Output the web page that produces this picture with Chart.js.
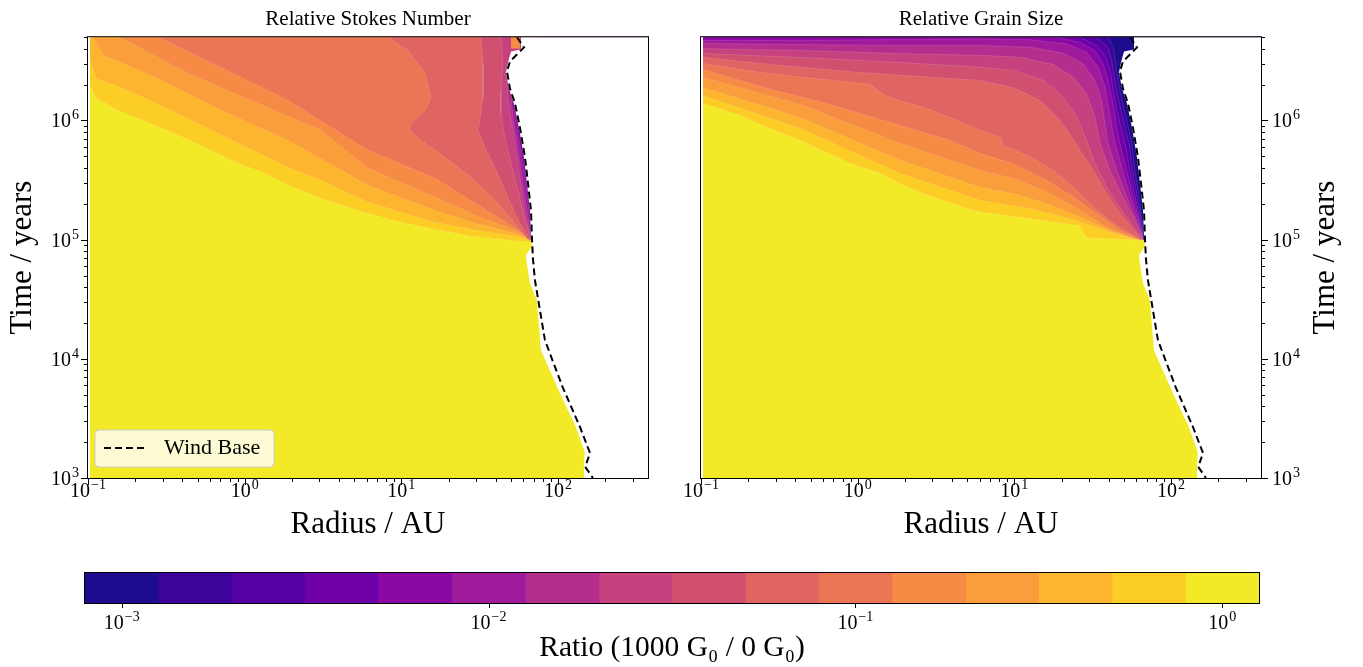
<!DOCTYPE html>
<html>
<head>
<meta charset="utf-8">
<script src="https://cdn.jsdelivr.net/npm/chart.js@4.4.1/dist/chart.umd.min.js"></script>
<style>
  html, body { margin: 0; padding: 0; background: #fff; }
  #wrap { position: relative; width: 1363px; height: 667px; overflow: hidden; }
  canvas { position: absolute; }
</style>
</head>
<body>
<div id="wrap">
  <canvas id="stokes" width="680" height="550" style="left:0px;top:0px"></canvas>
  <canvas id="grain" width="682" height="550" style="left:681px;top:0px"></canvas>
  <canvas id="cbar" width="1363" height="107" style="left:0px;top:560px"></canvas>
</div>
<script>
// contour levels of the ratio (0.2 dex apart) and their colours
var levels = [7.94e-4, 1.26e-3, 2.00e-3, 3.16e-3, 5.01e-3, 7.94e-3, 1.26e-2, 2.00e-2, 3.16e-2,
              5.01e-2, 7.94e-2, 0.126, 0.200, 0.316, 0.501, 0.794, 1.26];
var bandColors = ['#1e0c8e', '#3c049b', '#5601a4', '#6f00a8', '#8a09a5', '#a01a9c', '#b42e8d', '#c6427e',
                  '#d2506f', '#e06462', '#eb7655', '#f58b45', '#f99e3a', '#fdb42f', '#fcce25', '#f3ea27'];

var radiusTicks = [0.1, 1, 10, 100];
var timeTicks = [1e3, 1e4, 1e5, 1e6];
var ratioTicks = [1e-3, 1e-2, 1e-1, 1];

// wind base (radius AU, time yr)
var windR = [54.7, 60.6, 49.3, 47.2, 49.3, 53.1, 57.1, 61.5, 64.3, 67.2, 68.1, 69.1, 71.2, 82.5, 107, 138, 160, 149, 167];
var windT = [5.0e6, 4.1e6, 3.13e6, 2.58e6, 1.86e6, 1.39e6, 8.75e5, 4.91e5, 2.97e5, 1.76e5, 1.05e5, 6.98e4, 4.57e4,
             1.43e4, 5.79e3, 2.68e3, 1.62e3, 1.24e3, 1.0e3];

// outer edge of the simulated grid
var edgeR = [58.0, 58.0, 50.1, 47.9, 46.5, 48.6, 52.3, 56.3, 60.6, 63.3, 66.2, 67.2, 68.1, 62.4, 63.3, 66.2,
             73.3, 77.8, 104, 130, 148, 146, 148];
var edgeT = [6e6, 3.94e6, 3.80e6, 3.07e6, 2.53e6, 1.86e6, 1.39e6, 8.75e5, 4.91e5, 2.97e5, 1.76e5, 1.05e5, 8.8e4,
             7.4e4, 6.22e4, 4.31e4, 3.10e4, 1.18e4, 4.96e3, 2.68e3, 1.65e3, 1.17e3, 870];
var innerR = 0.103;

// Relative Stokes Number: contour lines [radius, time], band number = colour above the line
var stokes15 = [[0.103, 1.97e6], [0.113, 1.53e6], [0.155, 1.22e6], [0.268, 9.1e5], [0.416, 7.1e5], [0.906, 4.37e5],
                [1.35, 3.6e5], [1.89, 2.86e5], [3.07, 2.22e5], [5.28, 1.76e5], [9.8, 1.4e5], [17.6, 1.2e5],
                [27.8, 1.07e5], [42.6, 1.01e5], [67.2, 9.5e4]];
var stokes14 = [[0.103, 3.19e6], [0.113, 2.25e6], [0.18, 1.79e6], [0.435, 1.04e6], [0.906, 6.43e5], [1.89, 4.05e5],
                [3.07, 3.15e5], [6.12, 2.06e5], [16.4, 1.4e5], [29.5, 1.2e5], [53.1, 1.07e5], [67.2, 9.9e4]];
var stokes13 = [[0.108, 5e6], [0.125, 3.52e6], [0.268, 2.3e6], [0.706, 1.22e6], [1.89, 6.82e5], [6.12, 2.86e5],
                [16.4, 1.76e5], [29.5, 1.37e5], [53.1, 1.13e5], [67.2, 1.0e5]];
var stokes12 = [[0.159, 5e6], [0.435, 2.48e6], [1.16, 1.42e6], [3.07, 8.26e5], [6.12, 3.97e5], [16.4, 2.27e5],
                [29.5, 1.6e5], [53.1, 1.2e5], [67.2, 1.0e5]];
var stokes11 = [[0.28, 5e6], [0.706, 2.79e6], [1.89, 1.47e6], [6.12, 5.62e5], [16.4, 3.27e5], [29.5, 2.02e5],
                [39.6, 1.6e5], [53.1, 1.25e5], [67.2, 1.0e5]];
var stokes10 = [[8.21, 5e6], [11.0, 3.87e6], [14.2, 2.48e6], [15.5, 1.56e6], [14.2, 1.22e6], [11.5, 9.46e5],
                [11.35, 8.26e5], [13.3, 6.82e5], [19.0, 4.91e5], [27.8, 3.33e5], [39.6, 2.14e5], [53.1, 1.37e5],
                [64.3, 1.0e5]];
var stokes9 = [[32.2, 5e6], [33.2, 3.01e6], [33.2, 1.56e6], [31.8, 1.06e6], [30.8, 8.26e5], [34.2, 5.95e5],
               [40.2, 3.82e5], [47.9, 2.27e5], [57.1, 1.37e5], [66.2, 1.0e5]];
var stokes8 = [[43.2, 5e6], [44.5, 3.01e6], [43.2, 1.79e6], [43.2, 1.15e6], [45.8, 7.22e5], [50.1, 4.37e5],
               [55.5, 2.6e5], [60.6, 1.54e5], [67.2, 1.0e5]];
var stokes7 = [[75, 2.53e6], [46.5, 2.53e6], [47.9, 1.56e6], [50.8, 9.46e5], [53.9, 5.62e5], [57.5, 3.15e5],
               [61.0, 1.76e5], [67.2, 1.0e5]];
var stokes6 = [[75, 1.47e6], [50.1, 1.47e6], [52.3, 9.46e5], [55.9, 5.62e5], [59.2, 3.15e5], [63.3, 1.76e5],
               [67.2, 1.03e5]];
var stokes5 = [[75, 8.75e5], [54.7, 8.75e5], [58.8, 4.91e5], [62.0, 2.97e5], [65.2, 1.76e5], [67.2, 1.05e5]];
var stokesSpot = [[57.1, 5e6], [50.1, 5e6], [50.1, 4.02e6], [57.1, 4.02e6]];

// Relative Grain Size
var grain15 = [[0.103, 1.39e6], [0.119, 1.31e6], [0.185, 1.08e6], [0.264, 8.75e5], [0.428, 6.82e5], [0.637, 5.4e5],
               [0.893, 4.37e5], [1.39, 3.6e5], [1.95, 2.86e5], [3.02, 2.27e5], [4.98, 1.83e5], [6.03, 1.71e5],
               [12.6, 1.5e5], [26.2, 1.3e5], [28.9, 1.04e5], [54.7, 1.0e5], [65.9, 9.8e4]];
var grain14 = [[0.103, 1.62e6], [0.428, 8.59e5], [1.86, 3.6e5], [6.03, 2.14e5], [12.6, 1.82e5], [20.5, 1.55e5],
               [26.2, 1.41e5], [42.8, 1.13e5], [64.9, 9.9e4]];
var grain13 = [[0.103, 1.89e6], [0.428, 1.06e6], [1.86, 4.63e5], [6.03, 2.75e5], [9.87, 2.43e5], [16.1, 2.01e5],
               [26.2, 1.55e5], [42.8, 1.16e5], [64.9, 9.9e4]];
var grain12 = [[0.103, 2.3e6], [0.428, 1.36e6], [1.86, 6.43e5], [6.03, 3.82e5], [9.87, 3.25e5], [16.1, 2.51e5],
               [26.2, 1.76e5], [38.8, 1.28e5], [54.7, 1.05e5], [64.9, 1.0e5]];
var grain11 = [[0.103, 2.68e6], [0.264, 1.86e6], [0.696, 1.34e6], [1.86, 9.1e5], [3.88, 6.82e5], [6.03, 5.3e5],
               [9.87, 4.34e5], [16.1, 3.15e5], [23.8, 2.28e5], [33.5, 1.66e5], [47.2, 1.2e5], [64.9, 1.0e5]];
var grain10 = [[0.103, 3.01e6], [0.264, 2.48e6], [0.696, 2.17e6], [1.2, 2.01e6], [1.49, 1.62e6], [1.86, 1.47e6],
               [2.77, 1.26e6], [4.3, 1.0e6], [6.03, 8.26e5], [8.09, 7.26e5], [8.5, 6.18e5], [12.6, 4.93e5],
               [17.7, 3.82e5], [23.8, 2.76e5], [31.9, 1.88e5], [42.8, 1.38e5], [63.3, 1.0e5]];
var grain9 = [[0.103, 3.38e6], [0.319, 2.9e6], [1.03, 2.53e6], [2.5, 2.34e6], [6.03, 2.17e6], [9.87, 1.88e6],
              [14.6, 1.47e6], [19.1, 1.04e6], [23.2, 7.26e5], [26.2, 5.62e5], [31.9, 3.82e5], [38.8, 2.43e5],
              [49.5, 1.55e5], [64.9, 1.0e5]];
var grain8 = [[0.103, 3.65e6], [0.428, 3.38e6], [1.86, 3.07e6], [6.03, 2.8e6], [9.87, 2.63e6], [15.3, 2.17e6],
              [20.5, 1.57e6], [25.0, 1.07e6], [28.9, 6.82e5], [32.7, 4.34e5], [38.8, 2.76e5], [45.4, 2.01e5],
              [54.7, 1.41e5], [65.9, 1.0e5]];
var grain7 = [[0.103, 4.02e6], [0.428, 3.87e6], [1.86, 3.65e6], [6.03, 3.52e6], [10.9, 3.4e6], [17.7, 2.95e6],
              [23.8, 2.31e6], [28.9, 1.68e6], [32.7, 1.07e6], [35.2, 6.4e5], [40.7, 3.82e5], [49.1, 2.28e5],
              [57.4, 1.55e5], [66.5, 1.0e5]];
var grain6 = [[0.103, 4.43e6], [0.428, 4.34e6], [1.86, 4.26e6], [6.03, 4.26e6], [12.6, 4.12e6], [20.5, 3.67e6],
              [27.5, 2.99e6], [32.7, 2.17e6], [36.1, 1.47e6], [37.9, 9.4e5], [39.7, 6.4e5], [45.0, 3.82e5],
              [52.1, 2.28e5], [59.1, 1.55e5], [66.5, 1.0e5]];
var grain5 = [[0.103, 4.69e6], [0.428, 4.69e6], [1.86, 4.78e6], [6.03, 4.84e6], [12.6, 4.76e6], [21.6, 4.4e6],
              [28.9, 3.74e6], [34.3, 2.8e6], [37.9, 1.91e6], [40.3, 1.22e6], [42.4, 8.26e5], [43.9, 6.4e5],
              [49.1, 3.82e5], [55.2, 2.28e5], [60.9, 1.55e5], [66.5, 1.0e5]];
var grain4 = [[18.6, 5e6], [26.2, 4.54e6], [32.7, 3.87e6], [36.9, 2.99e6], [39.7, 2.17e6], [41.8, 1.57e6],
              [43.2, 1.22e6], [45.4, 8.26e5], [47.2, 6.4e5], [52.1, 3.82e5], [57.4, 2.28e5], [62.1, 1.55e5],
              [66.5, 1.0e5]];
var grain3 = [[26.2, 5e6], [33.5, 4.26e6], [38.4, 3.4e6], [41.2, 2.47e6], [42.8, 1.79e6], [45.0, 1.22e6],
              [48.4, 8.26e5], [50.8, 6.43e5], [54.7, 3.82e5], [59.1, 2.27e5], [63.0, 1.54e5], [66.5, 1.03e5]];
var grain2 = [[33.5, 5e6], [39.7, 4.1e6], [41.8, 3.19e6], [42.8, 2.63e6], [45.0, 1.79e6], [47.9, 1.22e6],
              [51.5, 8.26e5], [53.9, 6.43e5], [56.9, 3.82e5], [60.9, 2.27e5], [64.0, 1.54e5], [66.5, 1.03e5]];
var grain1 = [[39.7, 5e6], [42.8, 4.1e6], [43.9, 3.19e6], [45.0, 2.63e6], [47.2, 1.79e6], [50.3, 1.22e6],
              [53.9, 8.26e5], [56.0, 6.43e5], [58.8, 3.82e5], [62.4, 2.27e5], [64.9, 1.54e5], [66.5, 1.05e5]];

var stokesBands = [[15, stokes15], [14, stokes14], [13, stokes13], [12, stokes12], [11, stokes11], [10, stokes10],
                   [9, stokes9], [8, stokes8], [7, stokes7], [6, stokes6], [5, stokes5]];
var grainBands = [[15, grain15], [14, grain14], [13, grain13], [12, grain12], [11, grain11], [10, grain10],
                  [9, grain9], [8, grain8], [7, grain7], [6, grain6], [5, grain5], [4, grain4], [3, grain3],
                  [2, grain2], [1, grain1]];

var SERIF = "'Liberation Serif', 'DejaVu Serif', serif";
Chart.defaults.font.family = SERIF;
Chart.defaults.color = '#000';

var FAR_R = 1e4, FAR_T = 1e8, LOW_T = 500;

function toPts(arr) {
  return arr.map(function (p) { return {x: p[0], y: p[1]}; });
}
function area(pts, color, seam) {
  return {data: pts, fill: 'shape', backgroundColor: color, pointRadius: 0, tension: 0,
          borderColor: 'rgba(255,255,255,0.22)', borderWidth: seam ? 0.6 : 0};
}
// region above a contour line, closed round the top right, outside the grid
function band(idx, curve) {
  var d = toPts(curve);
  var first = d[0], last = d[d.length - 1];
  d.push({x: FAR_R, y: last.y}, {x: FAR_R, y: FAR_T}, {x: first.x, y: FAR_T});
  return area(d, bandColors[idx - 1], true);
}

function panelSets(bands, spot) {
  var sets = [area(toPts([[FAR_R, LOW_T], [innerR, LOW_T], [innerR, FAR_T], [FAR_R, FAR_T]]), bandColors[15], false)];
  bands.forEach(function (b) { sets.push(band(b[0], b[1])); });
  if (spot) sets.push(area(toPts(spot), bandColors[11], false));
  var mask = edgeR.map(function (r, i) { return {x: r, y: edgeT[i]}; });
  mask.push({x: FAR_R, y: LOW_T}, {x: FAR_R, y: FAR_T});
  sets.push(area(mask, '#ffffff', false));
  sets.push({
    label: 'Wind Base',
    data: windR.map(function (r, i) { return {x: r, y: windT[i]}; }),
    borderColor: '#000', borderWidth: 2, borderDash: [7, 4], pointRadius: 0, fill: false, tension: 0
  });
  sets.forEach(function (s, i) { s.order = sets.length - i; });
  return sets;
}

// "10" with a raised exponent
function drawPower(ctx, v, x, y, align) {
  var e = Math.round(Math.log10(v));
  var exp = e < 0 ? '\u2212' + (-e) : String(e);
  var base = '20px ' + SERIF, small = '14px ' + SERIF;
  ctx.font = base;
  var wb = ctx.measureText('10').width;
  ctx.font = small;
  var we = ctx.measureText(exp).width;
  var total = wb + 1 + we;
  var x0 = align === 'center' ? x - total / 2 : (align === 'right' ? x - total : x);
  ctx.textAlign = 'left';
  ctx.textBaseline = 'alphabetic';
  ctx.font = base;
  ctx.fillText('10', x0, y);
  ctx.font = small;
  ctx.fillText(exp, x0 + wb + 1, y - 8);
}

// tick marks, tick labels and the frame round the plot
var axisDecor = {
  id: 'axisDecor',
  afterDatasetsDraw: function (chart, args, opts) {
    var ctx = chart.ctx, a = chart.chartArea;
    ctx.save();
    ctx.strokeStyle = '#000';
    ctx.fillStyle = '#000';
    ctx.lineWidth = 1;
    (opts.axes || []).forEach(function (ax) {
      var scale = chart.scales[ax.id];
      var e0 = Math.floor(Math.log10(scale.min)), e1 = Math.ceil(Math.log10(scale.max));
      for (var e = e0; e <= e1; e++) {
        for (var m = 1; m < 10; m++) {
          if (m > 1 && !ax.minor) continue;
          var v = m * Math.pow(10, e);
          if (v < scale.min * 0.999 || v > scale.max * 1.001) continue;
          var len = m === 1 ? (ax.len || 7) : 4;
          var p = Math.round(scale.getPixelForValue(v)) + 0.5;
          ctx.beginPath();
          if (ax.side === 'bottom') { ctx.moveTo(p, a.bottom); ctx.lineTo(p, a.bottom + len); }
          else if (ax.side === 'left') { ctx.moveTo(a.left, p); ctx.lineTo(a.left - len, p); }
          else { ctx.moveTo(a.right, p); ctx.lineTo(a.right + len, p); }
          ctx.stroke();
        }
      }
      ax.labels.forEach(function (v) {
        var p = scale.getPixelForValue(v);
        if (ax.side === 'bottom') drawPower(ctx, v, p, a.bottom + ax.base, 'center');
        else if (ax.side === 'left') drawPower(ctx, v, a.left - 9, p + 7, 'right');
        else drawPower(ctx, v, a.right + 11, p + 7, 'left');
      });
    });
    ctx.strokeRect(a.left - 0.5, a.top - 0.5, a.right - a.left + 1, a.bottom - a.top + 1);
    ctx.restore();
  }
};

var windLegend = {
  id: 'windLegend',
  afterDraw: function (chart, args, opts) {
    if (!opts.show) return;
    var ds = chart.data.datasets.filter(function (d) { return d.label; })[0];
    var ctx = chart.ctx, a = chart.chartArea;
    var x = a.left + 7, y = a.bottom - 48, w = 179, h = 37, r = 4;
    ctx.save();
    ctx.beginPath();
    ctx.moveTo(x + r, y);
    ctx.arcTo(x + w, y, x + w, y + h, r);
    ctx.arcTo(x + w, y + h, x, y + h, r);
    ctx.arcTo(x, y + h, x, y, r);
    ctx.arcTo(x, y, x + w, y, r);
    ctx.closePath();
    ctx.fillStyle = 'rgba(255,255,255,0.8)';
    ctx.fill();
    ctx.strokeStyle = '#cccccc';
    ctx.lineWidth = 1;
    ctx.stroke();
    ctx.beginPath();
    ctx.setLineDash(ds.borderDash);
    ctx.strokeStyle = ds.borderColor;
    ctx.lineWidth = ds.borderWidth;
    ctx.moveTo(x + 9, y + 18);
    ctx.lineTo(x + 52, y + 18);
    ctx.stroke();
    ctx.setLineDash([]);
    ctx.fillStyle = '#000';
    ctx.font = '22px ' + SERIF;
    ctx.textBaseline = 'middle';
    ctx.fillText(ds.label, x + 69, y + 18.5);
    ctx.restore();
  }
};

// y title on the right axis, reading upwards like the left one
var sideTitle = {
  id: 'sideTitle',
  afterDraw: function (chart, args, opts) {
    if (!opts.text) return;
    var ctx = chart.ctx, a = chart.chartArea;
    ctx.save();
    ctx.translate(opts.x, (a.top + a.bottom) / 2);
    ctx.rotate(-Math.PI / 2);
    ctx.font = opts.font;
    ctx.fillStyle = '#000';
    ctx.textAlign = 'center';
    ctx.textBaseline = 'middle';
    ctx.fillText(opts.text, 0, 0);
    ctx.restore();
  }
};

function panelOptions(title, side) {
  var left = side === 'left';
  return {
    responsive: false, animation: false, devicePixelRatio: 1, events: [],
    layout: {padding: left ? {left: 0, right: 32, top: 0, bottom: 0} : {left: 20, right: 0, top: 0, bottom: 0}},
    scales: {
      x: {
        type: 'logarithmic', min: 0.1, max: 375,
        afterFit: function (s) { s.height = 72; },
        grid: {display: false, drawTicks: false, tickLength: 0},
        border: {display: false},
        ticks: {display: false},
        title: {display: true, text: 'Radius / AU', font: {size: 31}, padding: {top: 0, bottom: 7}}
      },
      y: {
        type: 'logarithmic', position: side, min: 1e3, max: 5e6,
        afterFit: function (s) { s.width = left ? 88 : 102; },
        grid: {display: false, drawTicks: false, tickLength: 0},
        border: {display: false},
        ticks: {display: false},
        title: {display: left, text: 'Time / years', font: {size: 31}, padding: {top: 4, bottom: 0}}
      }
    },
    plugins: {
      legend: {display: false},
      tooltip: {enabled: false},
      title: {display: true, text: title, color: '#000', fullSize: false,
              font: {size: 21, weight: 'normal'}, padding: {top: 7, bottom: 5}},
      axisDecor: {axes: [{id: 'x', side: 'bottom', minor: true, labels: radiusTicks, base: 19},
                         {id: 'y', side: side, minor: true, labels: timeTicks}]},
      windLegend: {show: left},
      sideTitle: left ? {} : {text: 'Time / years', x: 645, font: '31px ' + SERIF}
    }
  };
}

new Chart('stokes', {
  type: 'line',
  data: {datasets: panelSets(stokesBands, stokesSpot)},
  options: panelOptions('Relative Stokes Number', 'left'),
  plugins: [axisDecor, windLegend, sideTitle]
});

new Chart('grain', {
  type: 'line',
  data: {datasets: panelSets(grainBands, null)},
  options: panelOptions('Relative Grain Size', 'right'),
  plugins: [axisDecor, windLegend, sideTitle]
});

// colour bar: one floating bar per level band
new Chart('cbar', {
  type: 'bar',
  data: {
    labels: [''],
    datasets: bandColors.map(function (c, i) {
      return {data: [[levels[i], levels[i + 1]]], backgroundColor: c, borderWidth: 0,
              grouped: false, barPercentage: 1, categoryPercentage: 1};
    })
  },
  options: {
    indexAxis: 'y', responsive: false, animation: false, devicePixelRatio: 1, events: [],
    layout: {padding: {left: 85, right: 104, top: 13, bottom: 0}},
    scales: {
      x: {
        type: 'logarithmic', min: levels[0], max: levels[levels.length - 1],
        afterFit: function (s) { s.height = 64; },
        grid: {display: false, drawTicks: false, tickLength: 0},
        border: {display: false},
        ticks: {display: false},
        title: {display: true, text: 'Ratio (1000 G\u2080 / 0 G\u2080)', font: {size: 29.5}, padding: {top: 0, bottom: 1}}
      },
      y: {display: false}
    },
    plugins: {
      legend: {display: false},
      tooltip: {enabled: false},
      axisDecor: {axes: [{id: 'x', side: 'bottom', minor: false, len: 5, labels: ratioTicks, base: 26}]}
    }
  },
  plugins: [axisDecor]
});
</script>
</body>
</html>
